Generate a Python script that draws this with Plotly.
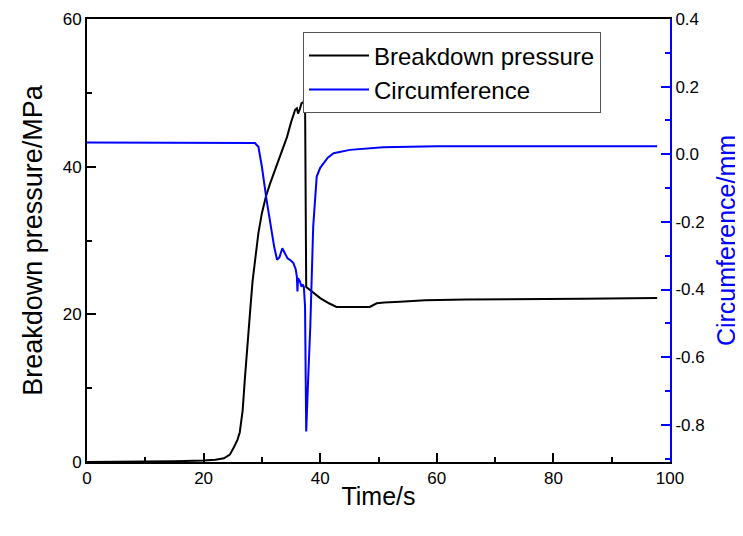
import plotly.graph_objects as go

# Breakdown pressure (MPa) vs time (s)
time_p = [0, 5, 10, 15, 20, 22, 23.5, 24.5, 25.2, 25.8, 26.2, 26.7, 27.1, 27.6, 28.0, 28.4,
          28.8, 29.4, 30.0, 30.7, 31.4, 32.0, 32.5, 33.4, 34.3, 35.0, 35.7, 36.0, 36.2, 36.5,
          36.8, 37.1, 37.4, 37.6, 38.2, 39.0, 40.0, 41.5, 42.8, 45, 48.5, 49.7, 51, 53.7, 58,
          65, 75, 85, 97.8]
pressure = [0, 0, 0.05, 0.1, 0.2, 0.3, 0.5, 1.0, 2.0, 3.0, 4.0, 7.0, 11.5, 16, 20.6, 24.5,
            27.4, 31, 33.7, 36, 37.7, 39, 40, 42, 44, 46, 47.7, 47.9, 47.2, 47.8,
            48.6, 48.7, 49.5, 23.7, 23.3, 22.8, 22.2, 21.5, 21.0, 21.0, 21.0, 21.5, 21.6, 21.7, 21.9,
            22.0, 22.1, 22.1, 22.2]

# Circumference (mm) vs time (s)
time_c = [0, 10, 20, 27, 28.8, 29.4, 30.0, 30.8, 31.7, 32.1, 32.6, 33.0, 33.5, 34.0, 34.4,
          35.0, 35.4, 35.8, 36.0, 36.1, 36.2, 36.5, 36.8, 37.0, 37.2, 37.4, 37.6, 37.9, 38.3,
          38.8, 39.4, 40.0, 40.5, 41.3, 42.3, 45.1, 50.8, 60, 75, 97.8]
circumference = [0.035, 0.035, 0.034, 0.034, 0.033, 0.022, -0.037, -0.135, -0.234, -0.273, -0.312,
                 -0.305, -0.278, -0.295, -0.308, -0.315, -0.322, -0.340, -0.362, -0.406, -0.367,
                 -0.375, -0.392, -0.385, -0.392, -0.45, -0.82, -0.68, -0.51, -0.214, -0.066,
                 -0.040, -0.027, -0.01, 0.003, 0.013, 0.021, 0.024, 0.024, 0.024]

FONT = "Arial, Liberation Sans, sans-serif"

fig = go.Figure()
fig.add_trace(go.Scatter(x=time_p, y=pressure, mode="lines", name="Breakdown pressure",
                         line=dict(color="black", width=2)))
fig.add_trace(go.Scatter(x=time_c, y=circumference, mode="lines", name="Circumference",
                         line=dict(color="#0000ff", width=2), yaxis="y2"))

fig.update_layout(
    width=735, height=528,
    margin=dict(l=79, r=73, t=11, b=74),
    plot_bgcolor="white", paper_bgcolor="white",
    font=dict(family=FONT, size=17, color="black"),
    showlegend=True,
    legend=dict(x=0.3705, y=0.97, xanchor="left", yanchor="top",
                bgcolor="white", bordercolor="#555555", borderwidth=1,
                itemwidth=60,
                font=dict(size=24, family=FONT), tracegroupgap=0),
    xaxis=dict(range=[0, 100], tickvals=[0, 20, 40, 60, 80, 100], automargin=False,
               showline=True, linecolor="black", linewidth=2, mirror=True,
               ticks="inside", ticklen=9, tickwidth=1.5, tickcolor="black",
               minor=dict(ticks="inside", ticklen=5, tickwidth=1.5, tickcolor="black", dtick=10),
               showgrid=False, zeroline=False,
               title=dict(text="Time/s", font=dict(size=25, family=FONT), standoff=0)),
    yaxis=dict(range=[0, 60], tickvals=[0, 20, 40, 60], automargin=False,
               showline=True, linecolor="black", linewidth=2,
               ticks="inside", ticklen=9, tickwidth=1.5, tickcolor="black",
               minor=dict(ticks="inside", ticklen=5, tickwidth=1.5, tickcolor="black", dtick=10),
               showgrid=False, zeroline=False,
               title=dict(text="Breakdown pressure/MPa", font=dict(size=27, family=FONT), standoff=12)),
    yaxis2=dict(range=[-0.91, 0.4], overlaying="y", side="right", automargin=False,
                tickvals=[-0.8, -0.6, -0.4, -0.2, 0.0, 0.2, 0.4],
                ticktext=["-0.8", "-0.6", "-0.4", "-0.2", "0.0", "0.2", "0.4"],
                showline=True, linecolor="#0000ff", linewidth=2,
                ticks="inside", ticklen=9, tickwidth=1.5, tickcolor="#0000ff",
                minor=dict(ticks="inside", ticklen=5, tickwidth=1.5, tickcolor="#0000ff", dtick=0.1),
                showgrid=False, zeroline=False,
                title=dict(text="Circumference/mm", font=dict(size=25, family=FONT, color="#0000ff"),
                           standoff=14)),
)

fig.write_html("out.html")
